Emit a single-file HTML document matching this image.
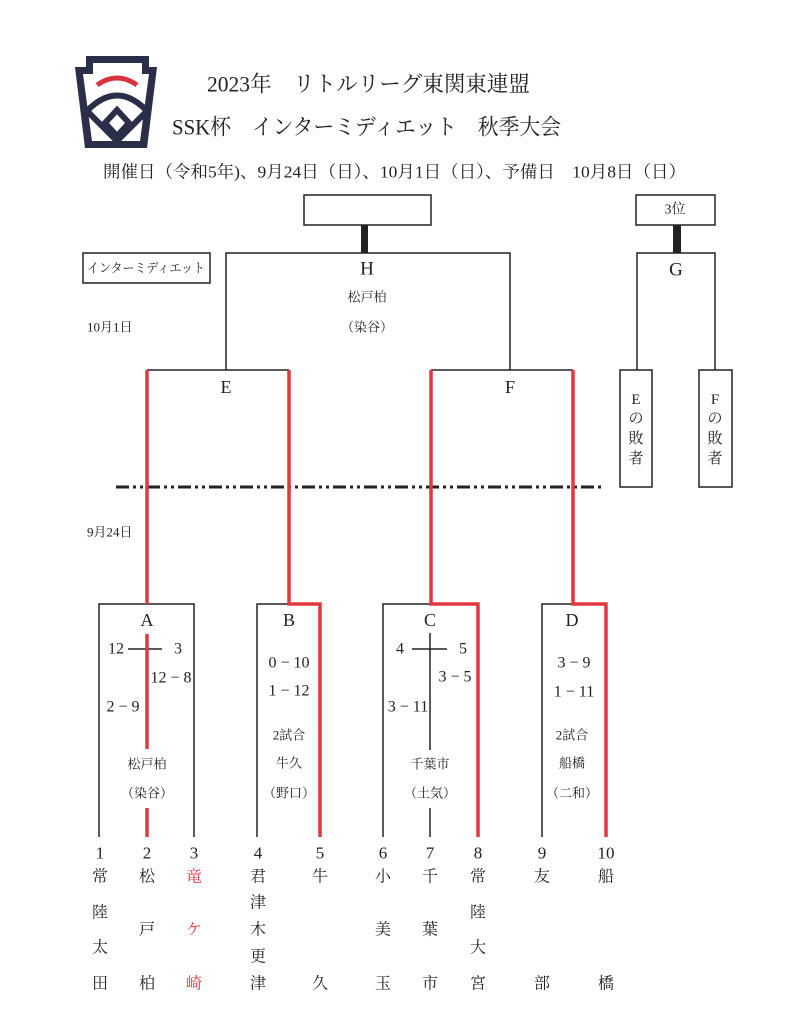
<!DOCTYPE html>
<html><head><meta charset="utf-8">
<style>
html,body{margin:0;padding:0;background:#fff;}
svg{display:block;}
text{font-family:"Liberation Serif","Noto Serif CJK SC",serif;fill:#222;}
.s{font-size:13px;}
.m{font-size:16px;}
.l{font-size:18px;}
.r{fill:#e0383e;}
</style></head>
<body>
<svg width="800" height="1035" viewBox="0 0 800 1035" xmlns="http://www.w3.org/2000/svg">
<!-- Logo -->
<polygon points="86,56 149,56 149,67 157,67 147,148 85,148 75,67 86,67" fill="#2b2e48"/>
<polygon points="93,63 142,63 142,74 149,74 140,141 92,141 83,74 93,74" fill="#fff"/>
<path d="M97,85 Q117,71 137,85" stroke="#d9323f" stroke-width="5" fill="none"/>
<path d="M87,111 Q117,80 147,111" stroke="#2b2e48" stroke-width="6" fill="none"/>
<path d="M87,111 L117,141 L147,111" stroke="#2b2e48" stroke-width="6" fill="none" stroke-linejoin="round"/>
<polygon points="117,110 129,123 117,136 105,123" stroke="#2b2e48" stroke-width="6" fill="#fff" stroke-linejoin="miter"/>

<!-- Titles -->
<text x="207" y="84" dominant-baseline="central" style="font-size:22px" textLength="323" lengthAdjust="spacingAndGlyphs">2023年　リトルリーグ東関東連盟</text>
<text x="172" y="127" dominant-baseline="central" style="font-size:22px" textLength="389" lengthAdjust="spacingAndGlyphs">SSK杯　インターミディエット　秋季大会</text>
<text x="103" y="172" dominant-baseline="central" style="font-size:17px" textLength="583" lengthAdjust="spacingAndGlyphs">開催日（令和5年)、9月24日（日）、10月1日（日）、予備日　10月8日（日）</text>

<g stroke="#222" stroke-width="1.5" fill="none">
<rect x="304" y="195" width="127" height="30"/>
<rect x="636" y="195" width="79" height="30"/>
<rect x="83" y="253" width="127" height="30"/>
<polyline points="226,370 226,253 510,253 510,370"/>
<polyline points="637,370 637,253 715,253 715,370"/>
<line x1="147" y1="370" x2="289" y2="370"/>
<line x1="431" y1="370" x2="573" y2="370"/>
<rect x="620" y="370" width="32" height="117"/>
<rect x="699" y="370" width="33" height="117"/>
<polyline points="99,837 99,604 194,604 194,837"/>
<line x1="128" y1="649" x2="162" y2="649"/>
<polyline points="257,837 257,604 289,604"/>
<polyline points="383,837 383,604 431,604"/>
<line x1="430" y1="633" x2="430" y2="750"/>
<line x1="430" y1="808" x2="430" y2="837"/>
<line x1="412" y1="649" x2="447" y2="649"/>
<polyline points="542,837 542,604 573,604"/>
</g>
<rect x="361" y="225" width="7" height="28" fill="#222"/>
<rect x="673" y="225" width="8" height="28" fill="#222"/>

<line x1="116" y1="487" x2="605" y2="487" stroke="#222" stroke-width="3" stroke-dasharray="13 4 3 4 3 4"/>

<g stroke="#e0383e" stroke-width="3.5" fill="none">
<line x1="147" y1="370" x2="147" y2="604"/>
<line x1="147" y1="634" x2="147" y2="749"/>
<line x1="147" y1="808" x2="147" y2="837"/>
<polyline points="289,370 289,604 320,604 320,837"/>
<polyline points="431,370 431,604 478,604 478,837"/>
<polyline points="573,370 573,604 606,604 606,837"/>
</g>

<g text-anchor="middle" dominant-baseline="central">
<text x="675" y="210" style="font-size:14px">3位</text>
<text x="146" y="268" style="font-size:13px" textLength="118" lengthAdjust="spacingAndGlyphs">インターミディエット</text>
<text x="367" y="269" style="font-size:19px">H</text>
<text x="367" y="297" class="s">松戸柏</text>
<text x="367" y="327" class="s">（染谷）</text>
<text x="676" y="270" style="font-size:19px">G</text>
<text x="226" y="387" style="font-size:18px">E</text>
<text x="510" y="387" style="font-size:18px">F</text>
<g style="font-size:15px">
<text x="636" y="400">E</text>
<text x="636" y="419">の</text>
<text x="636" y="439">敗</text>
<text x="636" y="459">者</text>
<text x="715" y="400">F</text>
<text x="715" y="419">の</text>
<text x="715" y="439">敗</text>
<text x="715" y="459">者</text>
</g>

<text x="147" y="620" class="l">A</text>
<text x="289" y="620" class="l">B</text>
<text x="430" y="620" class="l">C</text>
<text x="572" y="620" class="l">D</text>

<text x="116" y="649" class="m">12</text>
<text x="178" y="649" class="m">3</text>
<text x="171" y="678" class="m">12 − 8</text>
<text x="123" y="707" class="m">2 − 9</text>
<text x="147" y="764" class="s">松戸柏</text>
<text x="147" y="793" class="s">（染谷）</text>

<text x="289" y="663" class="m">0 − 10</text>
<text x="289" y="691" class="m">1 − 12</text>
<text x="289" y="735" class="s">2試合</text>
<text x="289" y="763" class="s">牛久</text>
<text x="289" y="793" class="s">（野口）</text>

<text x="400" y="649" class="m">4</text>
<text x="463" y="649" class="m">5</text>
<text x="455" y="677" class="m">3 − 5</text>
<text x="408" y="707" class="m">3 − 11</text>
<text x="430" y="764" class="s">千葉市</text>
<text x="430" y="793" class="s">（土気）</text>

<text x="574" y="663" class="m">3 − 9</text>
<text x="574" y="692" class="m">1 − 11</text>
<text x="572" y="735" class="s">2試合</text>
<text x="572" y="763" class="s">船橋</text>
<text x="572" y="793" class="s">（二和）</text>

<g style="font-size:17px">
<text x="100" y="853">1</text>
<text x="147" y="853">2</text>
<text x="194" y="853">3</text>
<text x="258" y="853">4</text>
<text x="320" y="853">5</text>
<text x="383" y="853">6</text>
<text x="430" y="853">7</text>
<text x="478" y="853">8</text>
<text x="542" y="853">9</text>
<text x="606" y="853">10</text>
</g>

<g style="font-size:16px">
<text x="100" y="877">常</text><text x="100" y="913">陸</text><text x="100" y="948">太</text><text x="100" y="984">田</text>
<text x="147" y="877">松</text><text x="147" y="930">戸</text><text x="147" y="984">柏</text>
<text x="194" y="877" class="r">竜</text><text x="194" y="930" class="r">ケ</text><text x="194" y="984" class="r">崎</text>
<text x="258" y="877">君</text><text x="258" y="903">津</text><text x="258" y="930">木</text><text x="258" y="957">更</text><text x="258" y="984">津</text>
<text x="320" y="877">牛</text><text x="320" y="984">久</text>
<text x="383" y="877">小</text><text x="383" y="930">美</text><text x="383" y="984">玉</text>
<text x="430" y="877">千</text><text x="430" y="930">葉</text><text x="430" y="984">市</text>
<text x="478" y="877">常</text><text x="478" y="913">陸</text><text x="478" y="948">大</text><text x="478" y="984">宮</text>
<text x="542" y="877">友</text><text x="542" y="984">部</text>
<text x="606" y="877">船</text><text x="606" y="984">橋</text>
</g>
</g>

<text x="87" y="327" dominant-baseline="central" class="s">10月1日</text>
<text x="87" y="532" dominant-baseline="central" class="s">9月24日</text>
</svg>
</body></html>
